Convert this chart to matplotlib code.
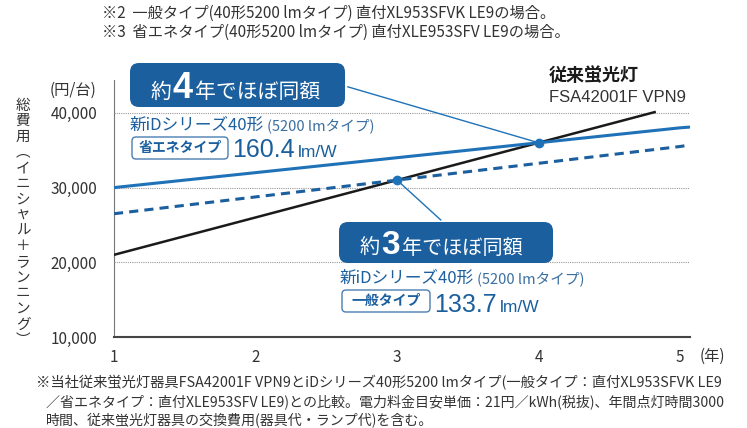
import matplotlib
matplotlib.use("Agg")
import matplotlib.pyplot as plt
from matplotlib.patches import FancyBboxPatch
from matplotlib.transforms import Affine2D
from matplotlib.ticker import FuncFormatter

plt.rcParams['font.family'] = ['Noto Sans CJK JP', 'DejaVu Sans']

# データ
years = [1, 2, 3, 4, 5, 5.07]
eco_cost = [30000, 32000, 34000, 36000, 38000, 38100]        # 省エネタイプ
general_cost = [26500, 28750, 31000, 33250, 35500, 35700]    # 一般タイプ
conv_years = [1, 2, 3, 4, 4.82]
conv_cost = [21000, 26000, 31000, 36000, 40100]              # 従来蛍光灯
cross_years = [3, 4]
cross_cost = [31000, 36000]
y_ticks = [10000, 20000, 30000, 40000]
x_ticks = [1, 2, 3, 4, 5]

W, H = 747, 428
DARK = '#1b5f9e'
BLUE = '#1f72b8'
GRAY = '#333333'

fig = plt.figure(figsize=(W / 100, H / 100), dpi=100)
renderer = fig.canvas.get_renderer()
# 左上原点のピクセル座標
pix = Affine2D().scale(1 / 100, -1 / 100).translate(0, H / 100) + fig.dpi_scale_trans

ax = fig.add_axes([114 / W, 1 - 337 / H, (690 - 114) / W, (337 - 80) / H])
ax.set_xlim(1, 5.07)
ax.set_ylim(10000, 44400)

for yv in y_ticks[1:]:
    ax.axhline(yv, color='#999999', lw=0.8, ls=(0, (1, 1)), zorder=1)

ax.plot(conv_years, conv_cost, color='#1a1a1a', lw=1.8, zorder=3)
ax.plot(years, eco_cost, color=BLUE, lw=2.2, zorder=4)
ax.plot(years, general_cost, color=DARK, lw=2.2, ls=(0, (3, 2)), zorder=4)
ax.plot(cross_years, cross_cost, 'o', color=BLUE, ms=6, zorder=5)

for s in ['top', 'right']:
    ax.spines[s].set_visible(False)
ax.spines['left'].set_color('#777777')
ax.spines['bottom'].set_color('#444444')
ax.spines['bottom'].set_linewidth(1.5)
ax.set_yticks(y_ticks)
ax.set_xticks(x_ticks)
ax.yaxis.set_major_formatter(FuncFormatter(lambda v, p: f'{int(v):,}'))
ax.tick_params(length=0, labelsize=11, labelcolor=GRAY)
ax.tick_params(axis='y', pad=12)
ax.tick_params(axis='x', pad=9)

fig.text(700, 356, '(年)', transform=pix, fontsize=11, color=GRAY, va='center')
fig.text(50, 90, '(円/台)', transform=pix, fontsize=11, color=GRAY, va='center')

ylabel = '総費用︵イニシャル＋ランニング︶'
fig.text(23, 223, '\n'.join(ylabel), transform=pix, fontsize=10.5, color=GRAY,
         ha='center', va='center', linespacing=1.15)

# 上部注記
fig.text(102, 13, '※2  一般タイプ(40形5200 lmタイプ) 直付XL953SFVK LE9の場合。',
         transform=pix, fontsize=11, color=GRAY, va='center')
fig.text(102, 32, '※3  省エネタイプ(40形5200 lmタイプ) 直付XLE953SFV LE9の場合。',
         transform=pix, fontsize=11, color=GRAY, va='center')

# 下部注記
notes = ['※当社従来蛍光灯器具FSA42001F VPN9とiDシリーズ40形5200 lmタイプ(一般タイプ：直付XL953SFVK LE9',
         '／省エネタイプ：直付XLE953SFV LE9)との比較。電力料金目安単価：21円／kWh(税抜)、年間点灯時間3000',
         '時間、従来蛍光灯器具の交換費用(器具代・ランプ代)を含む。']
fig.text(36, 383, notes[0], transform=pix, fontsize=10.3, color=GRAY, va='center')
fig.text(46, 402, notes[1], transform=pix, fontsize=10.1, color=GRAY, va='center')
fig.text(46, 421, notes[2], transform=pix, fontsize=10.1, color=GRAY, va='center')


def chain(x, y, parts):
    """テキストを左から順に並べる (text, gap, kwargs)"""
    for s, gap, kw in parts:
        t = fig.text(x + gap, y, s, transform=pix, va='baseline', **kw)
        x = x + gap + t.get_window_extent(renderer).width


# 吹き出し
def callout(x0, y0, x1, y1, digit, dsize, ksize, base):
    fig.patches.append(FancyBboxPatch((x0, y0), x1 - x0, y1 - y0,
                                      boxstyle='round,pad=0,rounding_size=9',
                                      transform=pix, fc=DARK, ec='none', zorder=6))
    kw = dict(color='white', zorder=7)
    chain(x0 + 21, base, [('約', 0, dict(fontsize=ksize, **kw)),
                          (digit, 1, dict(fontsize=dsize, family='Liberation Sans',
                                          weight='bold', **kw)),
                          ('年でほぼ同額', 2, dict(fontsize=ksize, **kw))])

callout(130, 63, 345, 107, '4', 26, 15, 98)
callout(339, 222, 553, 263, '3', 24, 14.5, 254)

ax.annotate('', xy=(cross_years[1], cross_cost[1]), xytext=(345, 86), textcoords=pix,
            arrowprops=dict(arrowstyle='-', color=BLUE, lw=1.0), zorder=2)
ax.annotate('', xy=(cross_years[0], cross_cost[0]), xytext=(443, 222), textcoords=pix,
            arrowprops=dict(arrowstyle='-', color=BLUE, lw=1.0), zorder=2)


# 製品ラベル
def product(x, y, kind, eff, box_w, y2):
    chain(x, y, [('新iDシリーズ40形', 0, dict(fontsize=12, color=DARK)),
                 ('(5200 lmタイプ)', 3, dict(fontsize=10.5, color='#3a6fa0'))])
    fig.patches.append(FancyBboxPatch((x + 2, y + 7), box_w, 22,
                                      boxstyle='round,pad=0,rounding_size=4',
                                      transform=pix, fc='white', ec='#4a7fb0', lw=1.0))
    fig.text(x + 2 + box_w / 2, y + 18, kind, transform=pix, fontsize=10, color=DARK,
             ha='center', va='center', weight='bold')
    chain(x + box_w + 6, y2, [(eff, 0, dict(fontsize=18, color=DARK, family='Liberation Sans')),
                              ('lm/W', 3, dict(fontsize=12.5, color=DARK,
                                               family='Liberation Sans'))])

product(130, 130, '省エネタイプ', '160.4', 96, 157)
product(340, 283, '一般タイプ', '133.7', 88, 312)

fig.text(549, 75, '従来蛍光灯', transform=pix, fontsize=13, color='#1a1a1a',
         va='center', weight='bold')
fig.text(549, 98, 'FSA42001F VPN9', transform=pix, fontsize=12, color=GRAY,
         va='center', family='Liberation Sans')

fig.savefig('out.png', dpi=100)
